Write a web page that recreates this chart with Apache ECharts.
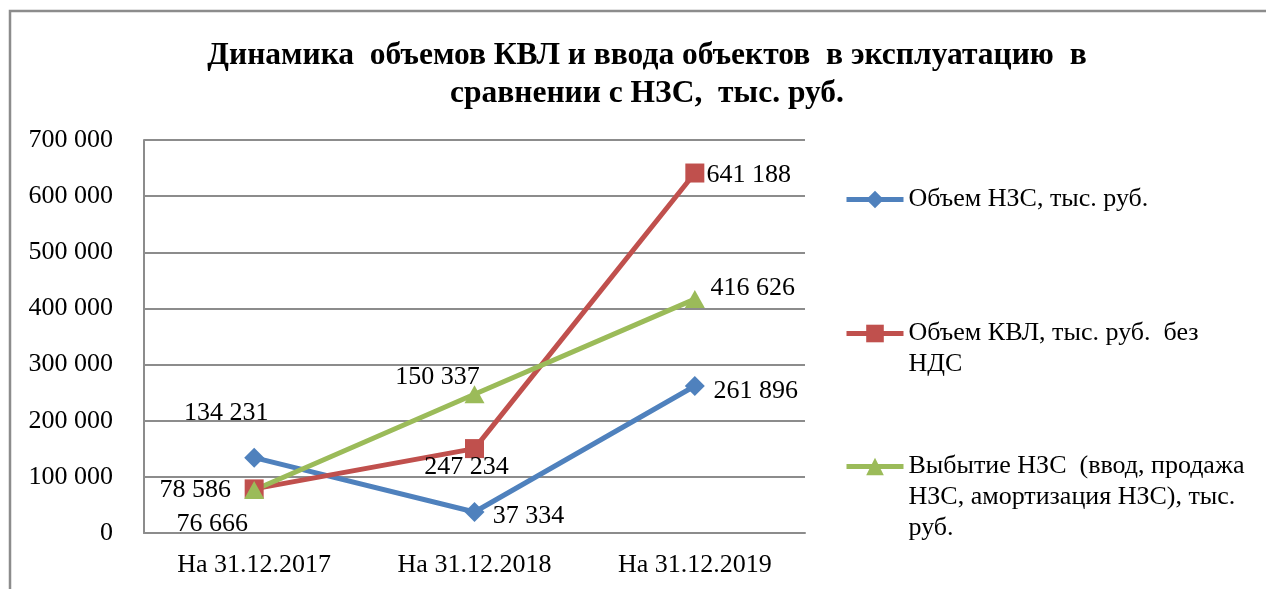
<!DOCTYPE html>
<html>
<head>
<meta charset="utf-8">
<script src="https://cdn.jsdelivr.net/npm/echarts@6/dist/echarts.min.js"></script>
<style>
html,body{margin:0;padding:0;background:#fff;}
#c{width:1266px;height:589px;}
</style>
</head>
<body>
<div id="c"></div>
<script>
const categories = ['На 31.12.2017', 'На 31.12.2018', 'На 31.12.2019'];
const seriesNames = [
  'Объем НЗС, тыс. руб.',
  'Объем КВЛ, тыс. руб.  без НДС',
  'Выбытие НЗС  (ввод, продажа НЗС, амортизация НЗС), тыс. руб.'
];
const nzsValues = [134231, 37334, 261896];
const kvlValues = [78586, 150337, 641188];
const vybytieValues = [76666, 247234, 416626];
const yTicks = [0, 100000, 200000, 300000, 400000, 500000, 600000, 700000];

// label placement (pixel offsets from each point), separate from data
const labelOffsets = [
  [[-28, -44], [54, 4], [61, 5]],
  [[-59, 1], [-37, -71], [54, 2]],
  [[-42, 34], [-8, 73], [58, -11]]
];
const colors = ['#4F81BD', '#C0504D', '#9BBB59'];
const symbols = ['diamond', 'rect', 'triangle'];
const symbolSizes = [[20, 20], [19, 19], [20, 18]];
const legendText = [
  'Объем НЗС, тыс. руб.',
  '\nОбъем КВЛ, тыс. руб.  без\nНДС',
  '\n\nВыбытие НЗС  (ввод, продажа\nНЗС, амортизация НЗС), тыс.\nруб.'
];
const legendTops = [184, 287, 389];

const FONT = 'Times New Roman';
const fmt = v => String(v).replace(/\B(?=(\d{3})+(?!\d))/g, ' ');

const allValues = [nzsValues, kvlValues, vybytieValues];
const series = allValues.map((vals, si) => ({
  type: 'line',
  name: seriesNames[si],
  data: vals.map((v, i) => ({
    value: v,
    label: { offset: labelOffsets[si][i] }
  })),
  symbol: symbols[si],
  symbolSize: symbolSizes[si],
  showAllSymbol: true,
  lineStyle: { color: colors[si], width: 5 },
  itemStyle: { color: colors[si] },
  label: {
    show: true,
    position: 'inside',
    formatter: p => fmt(p.value),
    color: '#000',
    fontFamily: FONT,
    fontSize: 26
  },
  emphasis: { disabled: true },
  animation: false
}));

const legends = seriesNames.map((n, i) => ({
  data: [n],
  left: 844,
  top: legendTops[i],
  padding: 0,
  orient: 'vertical',
  itemWidth: 57,
  itemHeight: 22,
  itemGap: 0,
  selectedMode: false,
  lineStyle: { width: 5 },
  formatter: () => legendText[i],
  textStyle: { fontFamily: FONT, fontSize: 26, color: '#000', lineHeight: 31 }
}));

const chart = echarts.init(document.getElementById('c'), null, { renderer: 'canvas' });
chart.setOption({
  backgroundColor: '#fff',
  animation: false,
  title: {
    text: 'Динамика  объемов КВЛ и ввода объектов  в эксплуатацию  в\nсравнении с НЗС,  тыс. руб.',
    left: 642,
    textAlign: 'center',
    top: 32,
    textStyle: { fontFamily: FONT, fontWeight: 'bold', fontSize: 31.5, color: '#000', lineHeight: 38 }
  },
  graphic: [{
    type: 'rect',
    shape: { x: 10, y: 11, width: 1400, height: 800 },
    style: { fill: 'none', stroke: '#8c8c8c', lineWidth: 2.5 },
    silent: true
  }],
  legend: legends,
  grid: { left: 144, right: 461, top: 140, bottom: 56 },
  xAxis: {
    type: 'category',
    data: categories,
    boundaryGap: true,
    axisLine: { show: true, lineStyle: { color: '#8c8c8c', width: 2 } },
    axisTick: { show: false },
    axisLabel: { fontFamily: FONT, fontSize: 26, color: '#000', margin: 19 }
  },
  yAxis: {
    type: 'value',
    min: yTicks[0],
    max: yTicks[yTicks.length - 1],
    interval: yTicks[1] - yTicks[0],
    axisLine: { show: true, lineStyle: { color: '#8c8c8c', width: 2 } },
    axisTick: { show: false },
    splitLine: { show: true, lineStyle: { color: '#8c8c8c', width: 2 } },
    axisLabel: { fontFamily: FONT, fontSize: 26, color: '#000', margin: 31, formatter: v => fmt(v) }
  },
  series: series
});
</script>
</body>
</html>
